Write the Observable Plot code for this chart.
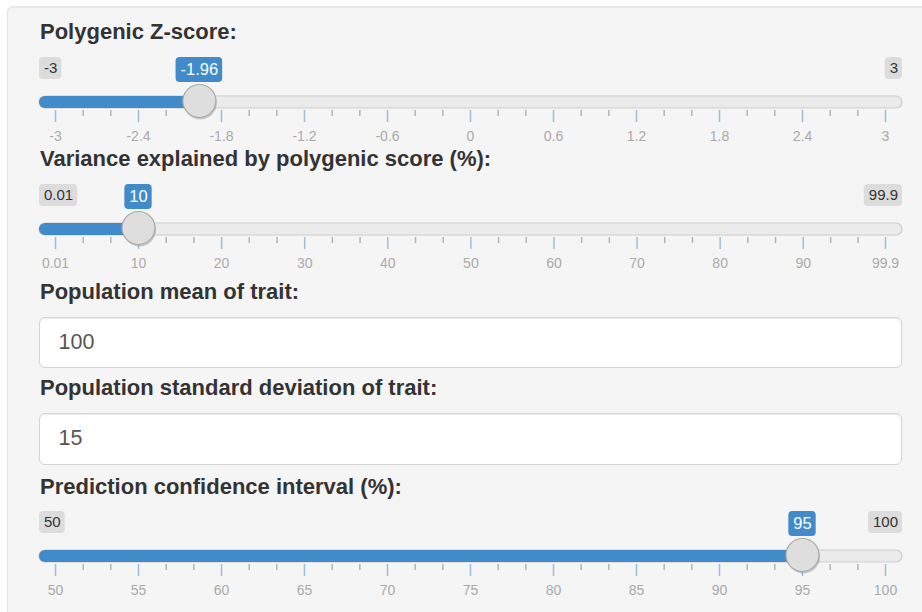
<!DOCTYPE html>
<html><head><meta charset="utf-8">
<script src="https://cdn.jsdelivr.net/npm/d3@7"></script>
<script src="https://cdn.jsdelivr.net/npm/@observablehq/plot@0.6"></script>
<style>
html,body{margin:0;padding:0;width:922px;height:612px;overflow:hidden;background:#fff;font-family:"Liberation Sans",Arial,Helvetica,sans-serif;}
#well{position:absolute;left:7px;top:6px;width:960px;height:640px;background:#f5f5f5;border:1.5px solid #e3e3e3;border-radius:6px;box-shadow:inset 0 1px 1px rgba(0,0,0,.05);}
.lbl{position:absolute;left:40px;font-weight:bold;font-size:22px;line-height:22px;color:#333;white-space:nowrap;}
.inp{position:absolute;left:39px;width:863px;box-sizing:border-box;background:#fff;border:1.5px solid #d4d4d4;border-radius:6px;box-shadow:inset 0 1px 1px rgba(0,0,0,.075);padding-left:18.5px;font-size:21.5px;color:#555;white-space:nowrap;}
.slider{position:absolute;left:0;}
</style></head><body>
<div id="well"></div>
<div id="root"></div>
<script>
// ---- data ----
const sliderTitles = ["Polygenic Z-score:", "Variance explained by polygenic score (%):", "Prediction confidence interval (%):"];
const sliderMins = [-3, 0.01, 50];
const sliderMaxs = [3, 99.9, 100];
const sliderValues = [-1.96, 10, 95];
const zTicks = [-3, -2.4, -1.8, -1.2, -0.6, 0, 0.6, 1.2, 1.8, 2.4, 3];
const varianceTicks = [0.01, 10, 20, 30, 40, 50, 60, 70, 80, 90, 99.9];
const ciTicks = [50, 55, 60, 65, 70, 75, 80, 85, 90, 95, 100];
const inputLabels = ["Population mean of trait:", "Population standard deviation of trait:"];
const inputValues = ["100", "15"];

// ---- layout (style only) ----
const titleBaselines = [40, 167, 495];
const trackTops = [96, 223, 550];
const inputLabelBaselines = [300, 396];
const inputTops = [317, 413];
const inputHeights = [51, 52];
const BLUE = "#428bca";
const FONT = "'Liberation Sans', Arial, Helvetica, sans-serif";
const MT = 48, MB = 45, TRACK = 12;

const root = document.getElementById("root");
const ctx = document.createElement("canvas").getContext("2d");
function textWidth(s, size) { ctx.font = `${size}px "Liberation Sans"`; return ctx.measureText(s).width; }

function addLabel(text, baseline) {
  const d = document.createElement("div");
  d.className = "lbl";
  d.textContent = text;
  d.style.top = (baseline - 18.6) + "px";
  root.appendChild(d);
}

function slider(i, ticks) {
  const min = sliderMins[i], max = sliderMaxs[i], value = sliderValues[i];
  const minor = d3.pairs(ticks).flatMap(([a, b]) => [a + (b - a) / 3, a + 2 * (b - a) / 3]);
  const wMin = textWidth(String(min), 15) + 9;
  const wMax = textWidth(String(max), 15) + 9;
  const wVal = textWidth(String(value), 16.5) + 9;
  const boxTop = -39;
  const plot = Plot.plot({
    width: 922,
    height: MT + TRACK + MB,
    marginLeft: 55, marginRight: 37, marginTop: MT, marginBottom: MB,
    style: {background: "transparent", fontFamily: FONT, overflow: "visible"},
    x: {domain: [min, max], axis: null},
    marks: [
      // track
      Plot.rect([{a: min, b: max}], {x1: "a", x2: "b", insetLeft: -16, insetRight: -17, fill: "#ebebeb", stroke: "#cdcdcd", strokeWidth: 1.2, rx: 6}),
      // filled bar
      Plot.rect([{a: min, b: value}], {x1: "a", x2: "b", insetLeft: -16, insetRight: -6, fill: BLUE, rx: 6}),
      // grid ticks
      Plot.tickX(ticks, {x: d => d, stroke: BLUE, strokeOpacity: 0.5, strokeWidth: 1.5, insetTop: 14, insetBottom: -14}),
      Plot.tickX(minor, {x: d => d, stroke: "#888", strokeOpacity: 0.6, strokeWidth: 1.5, insetTop: 14, insetBottom: -8}),
      Plot.text(ticks, {x: d => d, text: d => String(d), frameAnchor: "bottom", dy: 28.5, lineAnchor: "middle", fontSize: 14, fill: "#aaa"}),
      // min / max labels
      Plot.rect([min], {x1: d => d, x2: d => d, insetLeft: -16, insetRight: 16 - wMin, insetTop: boxTop, insetBottom: TRACK - (boxTop + 22), fill: "#dcdcdc", rx: 4}),
      Plot.text([min], {x: d => d, text: d => String(d), textAnchor: "start", dx: -11.5, frameAnchor: "top", dy: boxTop + 11, lineAnchor: "middle", fontSize: 15, fill: "#333"}),
      Plot.rect([max], {x1: d => d, x2: d => d, insetRight: -17, insetLeft: 17 - wMax, insetTop: boxTop, insetBottom: TRACK - (boxTop + 22), fill: "#dcdcdc", rx: 4}),
      Plot.text([max], {x: d => d, text: d => String(d), textAnchor: "end", dx: 12.5, frameAnchor: "top", dy: boxTop + 11, lineAnchor: "middle", fontSize: 15, fill: "#333"}),
      // value label
      Plot.rect([value], {x1: d => d, x2: d => d, insetLeft: -wVal / 2, insetRight: -wVal / 2, insetTop: boxTop, insetBottom: TRACK - (boxTop + 25), fill: BLUE, rx: 4}),
      Plot.text([value], {x: d => d, text: d => String(d), frameAnchor: "top", dy: boxTop + 12.5, lineAnchor: "middle", fontSize: 16.5, fill: "#fff"}),
      // handle
      Plot.dot([value], {x: d => d, r: 16.5, fill: "rgba(0,0,0,0.18)", dx: 1, dy: 0.5, frameAnchor: "middle"}),
      Plot.dot([value], {x: d => d, r: 16.5, fill: "#dedede", stroke: "#aaa", strokeWidth: 1.2, dy: -1.5, frameAnchor: "middle"})
    ]
  });
  plot.classList.add("slider");
  plot.style.top = (trackTops[i] - MT) + "px";
  plot.style.position = "absolute";
  plot.style.left = "0px";
  root.appendChild(plot);
}

sliderTitles.forEach((t, i) => addLabel(t, titleBaselines[i]));
slider(0, zTicks);
slider(1, varianceTicks);
slider(2, ciTicks);

inputLabels.forEach((t, i) => {
  addLabel(t, inputLabelBaselines[i]);
  const box = document.createElement("div");
  box.className = "inp";
  box.style.top = inputTops[i] + "px";
  box.style.height = inputHeights[i] + "px";
  box.style.lineHeight = (inputHeights[i] - 3) + "px";
  box.textContent = inputValues[i];
  root.appendChild(box);
});
</script>
</body></html>
